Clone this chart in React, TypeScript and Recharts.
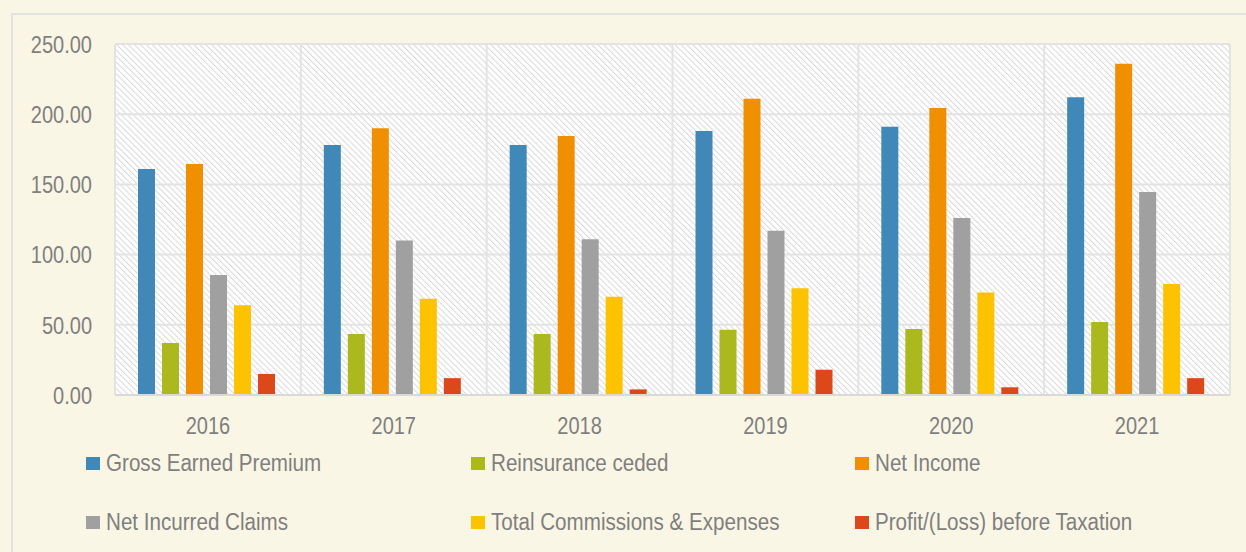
import { BarChart, Bar, XAxis, YAxis, CartesianGrid } from "recharts";

const years = ["2016", "2017", "2018", "2019", "2020", "2021"];
const grossEarnedPremium = [161, 178, 178, 188, 191, 212];
const reinsuranceCeded = [37, 43.5, 43.5, 46.5, 47, 52];
const netIncome = [164.5, 190, 184.5, 211, 204.5, 236];
const netIncurredClaims = [85.5, 110, 111, 117, 126, 144.5];
const totalCommissions = [64, 68.5, 70, 76, 73, 79];
const profitBeforeTax = [15, 12, 4, 18, 5.5, 12];
const yTicks = [0, 50, 100, 150, 200, 250];

const series = [
    { key: "gep", name: "Gross Earned Premium", color: "#3F88B8", values: grossEarnedPremium },
    { key: "rc", name: "Reinsurance ceded", color: "#ABB81E", values: reinsuranceCeded },
    { key: "ni", name: "Net Income", color: "#F08F00", values: netIncome },
    { key: "nic", name: "Net Incurred Claims", color: "#A0A0A0", values: netIncurredClaims },
    { key: "tce", name: "Total Commissions & Expenses", color: "#FDC300", values: totalCommissions },
    { key: "pbt", name: "Profit/(Loss) before Taxation", color: "#DC4819", values: profitBeforeTax },
];

const data = years.map((year, i) => {
    const row: Record<string, string | number> = { year };
    series.forEach((s) => {
        row[s.key] = s.values[i];
    });
    return row;
});

const font = "'Liberation Sans', Arial, sans-serif";
const textColor = "#7F7F7F";
const fontSize = 20;
// the source text is a narrow face: stretch regular sans vertically instead
const stretch = 1.23;

function XTick({ x, y, payload }: any) {
    return (
        <g transform={`translate(${x},${y})`}>
            <text transform={`scale(1,${stretch})`} textAnchor="middle" dy="0.71em" fill={textColor} fontSize={fontSize} fontFamily={font}>
                {payload.value}
            </text>
        </g>
    );
}

function YTick({ x, y, payload }: any) {
    return (
        <g transform={`translate(${x},${y})`}>
            <text transform={`scale(1,${stretch})`} textAnchor="end" dy="0.355em" fill={textColor} fontSize={fontSize} fontFamily={font}>
                {Number(payload.value).toFixed(2)}
            </text>
        </g>
    );
}

export default function App() {
    return (
        <div
            style={{
                position: "fixed",
                left: 0,
                top: 0,
                width: 1246,
                height: 552,
                background: "#FAF6E5",
                fontFamily: font,
                overflow: "hidden",
            }}
        >
            <svg width={0} height={0} style={{ position: "absolute" }}>
                <defs>
                    <pattern id="hatch" width="4.2" height="4.2" patternUnits="userSpaceOnUse" patternTransform="rotate(-45)">
                        <rect width="4.2" height="4.2" fill="#FFFFFF" />
                        <line x1="0" y1="0" x2="0" y2="4.2" stroke="#D9D9D9" strokeWidth="2" />
                    </pattern>
                </defs>
            </svg>
            <div
                style={{
                    position: "absolute",
                    left: 11,
                    top: 13,
                    width: 1250,
                    height: 560,
                    border: "2px solid #E2E2E0",
                    boxSizing: "border-box",
                }}
            />
            <div style={{ position: "absolute", left: 0, top: 0 }}>
                <BarChart
                    width={1246}
                    height={552}
                    data={data}
                    margin={{ top: 44, right: 16, bottom: 127, left: 0 }}
                    barCategoryGap={23}
                    barGap={7}
                >
                    <CartesianGrid
                        stroke="#E3E3E3"
                        strokeWidth={2}
                        fill="url(#hatch)"
                        verticalCoordinatesGenerator={({ offset }: any) =>
                            years.map((_, i) => offset.left + (i * offset.width) / years.length).concat(offset.left + offset.width)
                        }
                    />
                    <XAxis
                        dataKey="year"
                        height={30}
                        axisLine={{ stroke: "#D9D9D9", strokeWidth: 2 }}
                        tickLine={false}
                        tickSize={0}
                        tickMargin={22}
                        tick={<XTick />}
                    />
                    <YAxis
                        width={115}
                        domain={[0, 250]}
                        ticks={yTicks}
                        interval={0}
                        axisLine={false}
                        tickLine={false}
                        tickSize={0}
                        tickMargin={23}
                        tick={<YTick />}
                    />
                    {series.map((s) => (
                        <Bar key={s.key} dataKey={s.key} name={s.name} fill={s.color} isAnimationActive={false} />
                    ))}
                </BarChart>
            </div>
            {series.map((s, i) => (
                <div
                    key={s.key}
                    style={{
                        position: "absolute",
                        left: 86 + (i % 3) * 384.5,
                        top: i < 3 ? 449 : 508,
                        height: 28,
                        display: "flex",
                        alignItems: "center",
                        color: textColor,
                        fontSize,
                        whiteSpace: "nowrap",
                    }}
                >
                    <span style={{ display: "inline-block", width: 14, height: 13, background: s.color, marginRight: 6 }} />
                    <span style={{ display: "inline-block", transform: `scale(1.03,${stretch})`, transformOrigin: "left center" }}>{s.name}</span>
                </div>
            ))}
        </div>
    );
}
